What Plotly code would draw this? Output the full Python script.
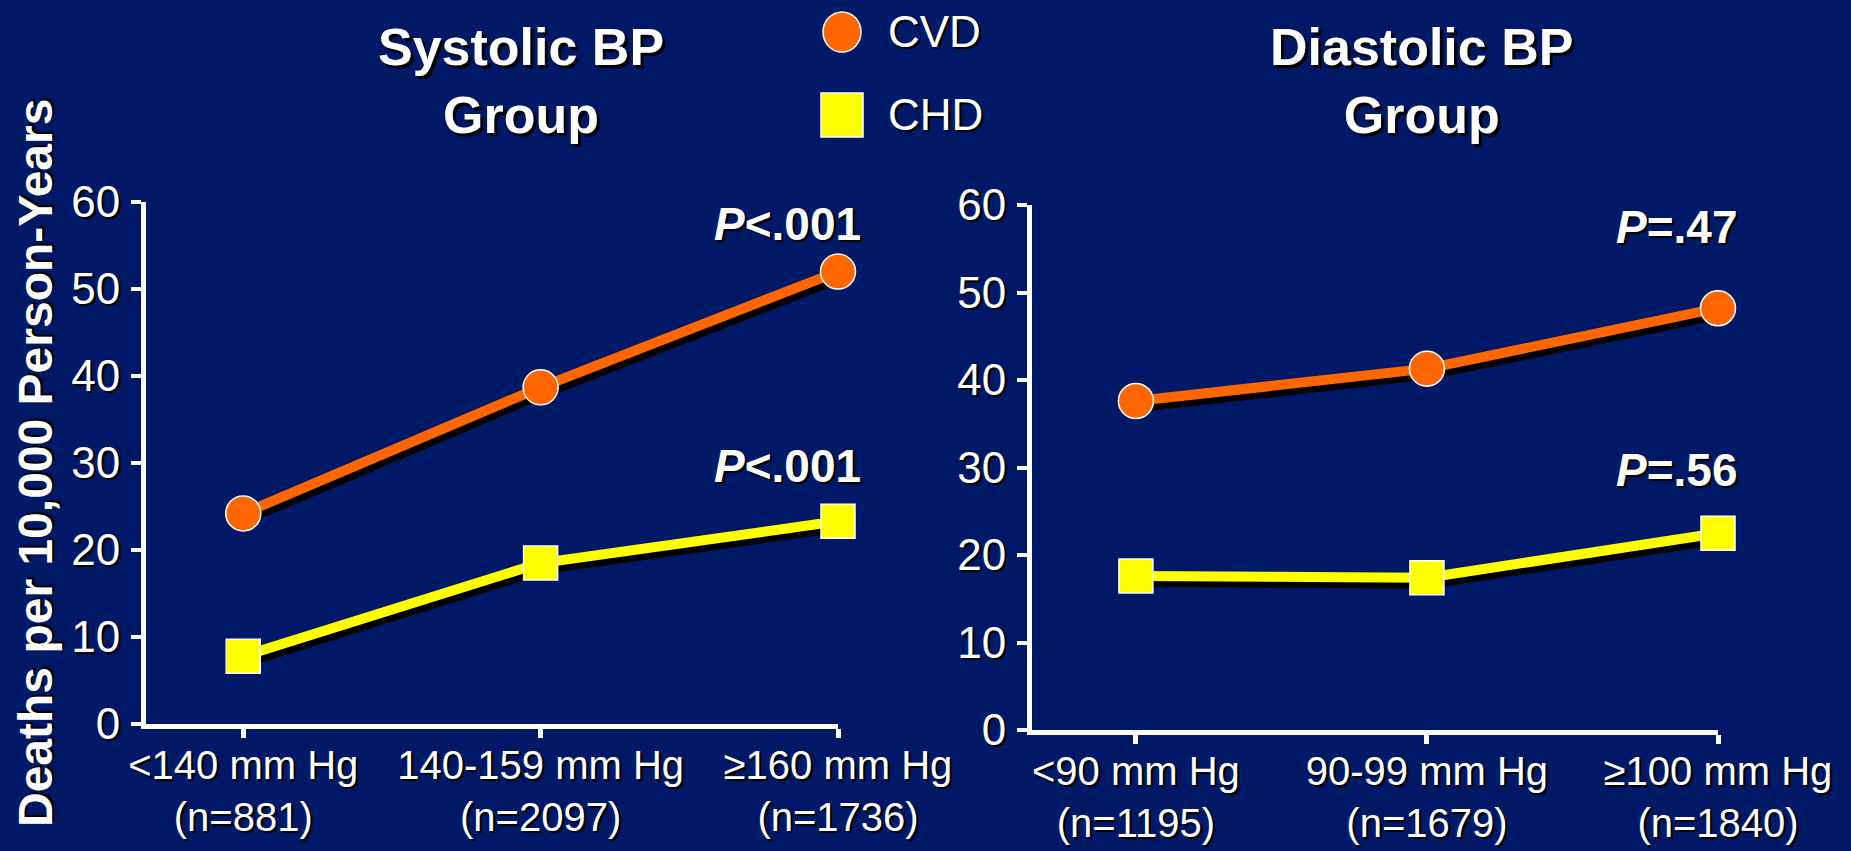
import plotly.graph_objects as go

# ---- data -------------------------------------------------------------
sbp_labels = ["&lt;140 mm Hg", "140-159 mm Hg", "≥160 mm Hg"]
sbp_n = [881, 2097, 1736]
sbp_cvd = [24.2, 38.7, 52.0]
sbp_chd = [7.8, 18.5, 23.3]
sbp_p = ["&lt;.001", "&lt;.001"]          # CVD, CHD

dbp_labels = ["&lt;90 mm Hg", "90-99 mm Hg", "≥100 mm Hg"]
dbp_n = [1195, 1679, 1840]
dbp_cvd = [37.6, 41.3, 48.2]
dbp_chd = [17.6, 17.4, 22.5]
dbp_p = ["=.47", "=.56"]

y_ticks = [0, 10, 20, 30, 40, 50, 60]

# ---- style --------------------------------------------------------------
W, H = 1851, 851
BG = "#001966"
ORANGE = "#FF6600"
YELLOW = "#FFFF00"
FONT = "Liberation Sans, Arial, sans-serif"
TSHADOW = "2px 2px 1px #000000"
SHADOW_DX, SHADOW_DY = 3, 6


def xdom(x0, x1, dx=0):
    return [(x0 + dx) / W, (x1 + dx) / W]


def ydom(y_bottom, y_top, dy=0):
    return [1 - (y_bottom + dy) / H, 1 - (y_top + dy) / H]


panels = [
    dict(labels=sbp_labels, n=sbp_n, cvd=sbp_cvd, chd=sbp_chd, p=sbp_p,
         px=(146, 838), py=(724, 202), xmin=-0.327, pshift=25),
    dict(labels=dbp_labels, n=dbp_n, cvd=dbp_cvd, chd=dbp_chd, p=dbp_p,
         px=(1032, 1718), py=(730, 205), xmin=-0.357, pshift=22),
]

fig = go.Figure()
layout = {}

# drop shadows of the lines live on their own, slightly offset subplots
# (axes 1-2); the visible panels sit on top (axes 3-4)
for i, pn in enumerate(panels):
    k = i + 1
    xs = list(range(len(pn["labels"])))
    layout[f"xaxis{k}"] = dict(domain=xdom(*pn["px"], SHADOW_DX), range=[pn["xmin"], 2],
                               visible=False, anchor=f"y{k}", automargin=False)
    layout[f"yaxis{k}"] = dict(domain=ydom(*pn["py"], SHADOW_DY), range=[0, 60],
                               visible=False, anchor=f"x{k}", automargin=False)
    for vals in (pn["cvd"], pn["chd"]):
        fig.add_trace(go.Scatter(x=xs, y=vals, mode="lines", xaxis=f"x{k}", yaxis=f"y{k}",
                                 line=dict(color="#000000", width=10),
                                 cliponaxis=False, showlegend=False, hoverinfo="skip"))

for i, pn in enumerate(panels):
    k = i + 3
    xs = list(range(len(pn["labels"])))
    ticktext = [f"{lab}<br>(n={n})" for lab, n in zip(pn["labels"], pn["n"])]
    layout[f"xaxis{k}"] = dict(
        domain=xdom(*pn["px"]), range=[pn["xmin"], 2], anchor=f"y{k}", automargin=False,
        tickmode="array", tickvals=xs, ticktext=ticktext,
        showline=True, linewidth=5, linecolor="white",
        ticks="outside", ticklen=9, tickwidth=5, tickcolor="white",
        showgrid=False, zeroline=False, ticklabelstandoff=-7,
        tickfont=dict(family=FONT, size=40, color="white", shadow=TSHADOW),
    )
    layout[f"yaxis{k}"] = dict(
        domain=ydom(*pn["py"]), range=[0, 60], anchor=f"x{k}", automargin=False,
        tickmode="array", tickvals=y_ticks,
        showline=True, linewidth=5, linecolor="white",
        ticks="outside", ticklen=10, tickwidth=4, tickcolor="white",
        showgrid=False, zeroline=False, ticklabelstandoff=2,
        tickfont=dict(family=FONT, size=44, color="white", shadow=TSHADOW),
    )
    fig.add_trace(go.Scatter(
        x=xs, y=pn["cvd"], mode="lines+markers", xaxis=f"x{k}", yaxis=f"y{k}",
        line=dict(color=ORANGE, width=10),
        marker=dict(symbol="circle", size=35, color=ORANGE, line=dict(color="white", width=1.5)),
        cliponaxis=False, showlegend=False, name="CVD"))
    fig.add_trace(go.Scatter(
        x=xs, y=pn["chd"], mode="lines+markers", xaxis=f"x{k}", yaxis=f"y{k}",
        line=dict(color=YELLOW, width=10),
        marker=dict(symbol="square", size=34, color=YELLOW, line=dict(color="white", width=1.5)),
        cliponaxis=False, showlegend=False, name="CHD"))
    # P values placed above the last group of each series
    for ptxt, ypos in zip(pn["p"], (57.5, 29.7)):
        fig.add_annotation(x=xs[-1], y=ypos, xref=f"x{k}", yref=f"y{k}",
                           text=f"<b><i>P</i>{ptxt}</b>", showarrow=False,
                           xanchor="right", yanchor="middle", xshift=pn["pshift"],
                           font=dict(family=FONT, size=46, color="white", shadow=TSHADOW))

# panel headings
for txt, xc in (("Systolic BP<br>Group", 521), ("Diastolic BP<br>Group", 1421)):
    fig.add_annotation(x=xc / W, y=1 - 81 / H, xref="paper", yref="paper",
                       text=f"<b>{txt}</b>", showarrow=False, xanchor="center", yanchor="middle",
                       font=dict(family=FONT, size=52, color="white", shadow="3px 3px 1px #000000"))

# shared y-axis title
fig.add_annotation(x=35 / W, y=1 - 463 / H, xref="paper", yref="paper",
                   text="<b>Deaths per 10,000 Person-Years</b>", textangle=-90, showarrow=False,
                   xanchor="center", yanchor="middle",
                   font=dict(family=FONT, size=48, color="white", shadow=TSHADOW))

# legend keys
shapes = [
    dict(type="circle", xref="paper", yref="paper", xsizemode="pixel", ysizemode="pixel",
         xanchor=842 / W, yanchor=1 - 32 / H, x0=-19, x1=19, y0=-20, y1=20,
         fillcolor=ORANGE, line=dict(color="white", width=1.5)),
    dict(type="rect", xref="paper", yref="paper", xsizemode="pixel", ysizemode="pixel",
         xanchor=842 / W, yanchor=1 - 115 / H, x0=-21, x1=21, y0=-22, y1=22,
         fillcolor=YELLOW, line=dict(color="white", width=1.5)),
]
for name, yc in (("CVD", 32), ("CHD", 115)):
    fig.add_annotation(x=886 / W, y=1 - yc / H, xref="paper", yref="paper", text=name,
                       showarrow=False, xanchor="left", yanchor="middle",
                       font=dict(family=FONT, size=44, color="white", shadow=TSHADOW))

fig.update_layout(
    width=W, height=H, autosize=False,
    margin=dict(l=0, r=0, t=0, b=0, autoexpand=False),
    paper_bgcolor=BG, plot_bgcolor="rgba(0,0,0,0)",
    showlegend=False, shapes=shapes,
    **layout,
)

fig.write_html("out.html")
